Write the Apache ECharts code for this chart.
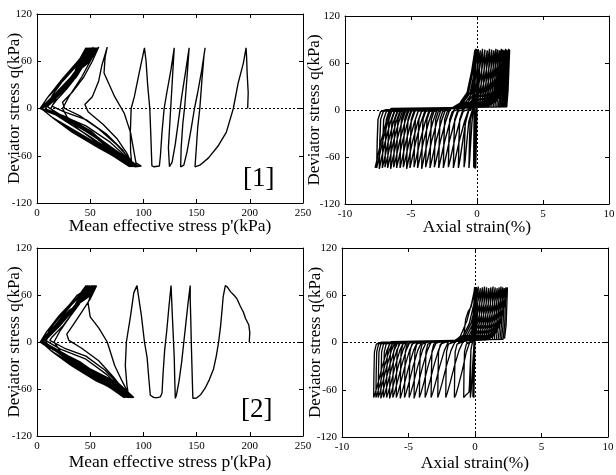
<!DOCTYPE html>
<html>
<head>
<meta charset="utf-8">
<script src="https://cdn.jsdelivr.net/npm/echarts@6/dist/echarts.min.js"></script>
<style>
html,body{margin:0;padding:0;background:#fff;}
#chart{width:616px;height:475px;}
</style>
</head>
<body>
<div id="chart"></div>
<script>
// Axis ranges and titles
const pRange = {min: 0, max: 250, step: 50};
const qRange = {min: -120, max: 120, step: 60};
const strainRange = {min: -10, max: 10, step: 5};
const nameP = "Mean effective stress p'(kPa)";
const nameStrain = "Axial strain(%)";
const nameQ = "Deviator stress q(kPa)";
const panelTags = ['[1]', '[2]'];

// Test [1]: effective stress path, first cycles down to the butterfly stage  [p', q]
const pqHistory1 = [
  [198,0],[198.5,20],[197.5,45],[197,65],[196.5,77],
  [194,58],[189,32],[184.5,0],[178,-30],[170,-48],[161,-63],[153,-72],[148.5,-74],
  [149.5,-55],[151,-25],[153,0],[155,36],[157,68],[158,77],
  [155,50],[151,20],[148,0],[145,-25],[141,-55],[138,-72],[135,-74],
  [135.5,-50],[137,-20],[139,5],[141,40],[142.5,68],[143,77],
  [140,50],[136,15],[133,-15],[130,-45],[127,-68],[124.5,-74],[123,-74],
  [123.5,-50],[125,-15],[126.5,20],[128,55],[129,77],
  [126,50],[122,20],[119.5,0],[117.5,-30],[116,-60],[115,-73],[110,-74],[108,-73],
  [107.5,-55],[107,-35],[106,0],[104,30],[102.5,60],[101,77],
  [96,45],[91.5,15],[88.5,0],[87.7,-31],[88,-55],[89,-70],[92,-74],[98,-73],
  [93,-69],[88,-31],[82,-6],[73,15],[63,45],[64,65],[66,78],
  [61,55],[58,35],[52,15],[45,5],[48,-4],[62,-20],[75,-38],[85,-58],[90,-74],
  [75,-60],[55,-42],[38,-25],[28,-10],[24,0],[30,15],[42,40],[52,65],[58,78],
  [52,60],[44,40],[34,22],[24,8],[26,0],[40,-9],[58,-26],[75,-46],[88,-65],[92,-74],
  [74,-58],[52,-38],[32,-20],[18,-7],[13,0],[20,18],[33,42],[45,64],[53,78],
  [46,60],[38,42],[28,25],[18,10],[14,3],[25,-4],[46,-14],[65,-32],[80,-52],[90,-72],[93,-74],
  [73,-57],[50,-36],[28,-17],[14,-5],[8,0],[15,18],[28,42],[40,63],[51,77],
  [44,60],[36,42],[24,22],[12,7],[10,2],[22,-8],[46,-22],[68,-42],[86,-64],[91,-74]
];
// Test [1]: butterfly loops through the origin
const pqLoops1 = [
  [[73,-55],[48,-29],[25,-11],[8,-2],[3,0],[10,14],[25,38],[40,61],[52,77],[45,60],[34,40],[20,20],[9,5],[4,0],[15,-12],[35,-30],[60,-50],[89,-74]],
  [[72,-55],[49,-29],[26,-11],[9,-2],[3,0],[10,14],[25.5,38],[40.5,61],[48,77],[41,60],[35,40],[21,20],[10,5],[4,0],[15,-12],[36,-30],[61,-50],[93,-74]],
  [[74,-55],[47,-29],[24,-11],[7,-2],[3,0],[10,14],[24.5,38],[39.5,61],[54,77],[47,60],[33,40],[19,20],[8,5],[4,0],[15,-12],[34,-30],[59,-50],[88,-74]],
  [[72,-55],[50,-29],[27,-11],[10,-2],[3,0],[10,14],[26,38],[41,61],[50,77],[43,60],[36,40],[22,20],[11,5],[4,0],[15,-12],[37,-30],[62,-50],[95,-74]],
  [[75,-55],[46,-29],[23,-11],[6,-2],[3,0],[10,14],[24,38],[39,61],[56,77],[49,60],[32,40],[18,20],[7,5],[4,0],[15,-12],[33,-30],[58,-50],[90,-74]],
  [[73,-55],[49,-29],[26,-11],[9,-2],[3,0],[10,14],[25.5,38],[40.5,61],[47,77],[40,60],[35,40],[21,20],[10,5],[4,0],[15,-12],[36,-30],[61,-50],[92,-74]],
  [[74,-55],[48,-29],[25,-11],[8,-2],[3,0],[10,14],[25,38],[40,61],[53,77],[46,60],[34,40],[20,20],[9,5],[4,0],[15,-12],[35,-30],[60,-50],[87,-74]],
  [[72,-55],[51,-29],[28,-11],[11,-2],[3,0],[10,14],[26.5,38],[41.5,61],[49,77],[42,60],[37,40],[23,20],[12,5],[4,0],[15,-12],[38,-30],[63,-50],[94,-74]],
  [[75,-55],[47,-29],[24,-11],[7,-2],[3,0],[10,14],[24.5,38],[39.5,61],[55,77],[48,60],[33,40],[19,20],[8,5],[4,0],[15,-12],[34,-30],[59,-50],[91,-74]],
  [[75,-55],[50,-29],[27,-11],[10,-2],[3,0],[10,14],[26,38],[41,61],[51,77],[44,60],[36,40],[22,20],[11,5],[4,0],[15,-12],[37,-30],[62,-50],[89,-74]],
  [[71,-55],[48,-29],[25,-11],[8,-2],[3,0],[10,14],[25,38],[40,61],[46,77],[39,60],[34,40],[20,20],[9,5],[4,0],[15,-12],[35,-30],[60,-50],[93,-74]],
  [[76,-55],[49,-29],[26,-11],[9,-2],[3,0],[10,14],[25.5,38],[40.5,61],[52,77],[45,60],[35,40],[21,20],[10,5],[4,0],[15,-12],[36,-30],[61,-50],[96,-74]],
  [[76,-55],[46,-29],[23,-11],[6,-2],[3,0],[10,14],[24,38],[39,61],[57,77],[50,60],[32,40],[18,20],[7,5],[4,0],[15,-12],[33,-30],[58,-50],[90,-74]],
  [[72,-55],[48,-29],[25,-11],[8,-2],[3,0],[10,14],[25,38],[40,61],[50,77],[43,60],[34,40],[20,20],[9,5],[4,0]]
];

// Test [1]: axial strain (%) against deviator stress, cycle by cycle  [strain, q]
const strainCycles1 = [
  [[0,0],[0.02,30],[0.05,60],[0.06,77],[0.03,40],[0,5],[-0.04,-30],[-0.08,-60],[-0.1,-74],
   [-0.09,-40],[-0.05,-10],[0,15],[0.05,50],[0.08,77],[0.04,30],[-0.02,0],[-0.08,-30],[-0.12,-60],[-0.14,-75],
   [-0.12,-40],[-0.07,-8],[0,12],[0.07,50],[0.1,78],[0.05,25],[-0.05,0],[-0.12,-30],[-0.17,-60],[-0.2,-74],
   [-0.18,-40],[-0.12,-6],[-0.05,8],[0.05,45],[0.1,77],[0.04,20],[-0.06,2],[-0.16,-25],[-0.22,-55],[-0.25,-73]],
  [[-0.24,-40],[-0.22,-10],[-0.2,10],[-0.16,45],[-0.12,77],[-0.2,25],[-0.28,3],[-0.38,-15],[-0.48,-42],[-0.56,-64],[-0.61,-74]],
  [[-0.57,-40],[-0.51,-12],[-0.35,-1],[-0.25,6],[-0.18,22],[-0.13,50],[-0.1,77],[-0.2,25],[-0.3,3],[-0.45,1],[-0.62,-15],[-0.78,-42],[-0.9,-64],[-0.98,-73]],
  [[-0.94,-40],[-0.88,-12],[-0.68,-2],[-0.4,2],[-0.25,12],[-0.16,42],[-0.08,78],[-0.19,25],[-0.29,3],[-0.6,1],[-0.85,-15],[-1.1,-42],[-1.3,-64],[-1.41,-74]],
  [[-1.37,-40],[-1.31,-12],[-1.11,-2],[-0.71,0.5],[-0.45,6],[-0.3,20],[-0.15,50],[-0.05,77],[-0.17,25],[-0.27,4],[-0.6,2],[-0.95,-15],[-1.35,-40],[-1.65,-63],[-1.79,-74]],
  [[-1.75,-40],[-1.69,-12],[-1.49,-2],[-1.09,0.5],[-0.9,5],[-0.6,12],[-0.37,26],[-0.2,52],[-0.12,76],[-0.24,25],[-0.34,4],[-0.97,2],[-1.32,-15],[-1.72,-40],[-2.02,-63],[-2.17,-73]],
  [[-2.13,-40],[-2.07,-12],[-1.87,-2],[-1.47,0.5],[-1.25,10],[-0.75,22],[-0.4,50],[-0.15,77],[-0.27,25],[-0.37,4],[-1.35,2],[-1.7,-15],[-2.1,-40],[-2.4,-63],[-2.55,-74]],
  [[-2.51,-40],[-2.45,-12],[-2.25,-2],[-1.85,3],[-1.15,10],[-0.65,22],[-0.3,50],[-0.05,78],[-0.17,25],[-0.27,4],[-1.7,2],[-2.05,-15],[-2.45,-40],[-2.75,-63],[-2.9,-74]],
  [[-2.86,-40],[-2.8,-12],[-2.6,-2],[-2.2,0.5],[-1.72,4],[-1.02,10],[-0.52,22],[-0.17,50],[0.08,77],[-0.04,25],[-0.14,4],[-2.03,2],[-2.38,-15],[-2.78,-40],[-3.08,-63],[-3.23,-73]],
  [[-3.19,-40],[-3.13,-12],[-2.93,-2],[-2.53,0.5],[-1.55,4],[-0.85,10],[-0.35,22],[0,50],[0.25,76],[0.13,25],[0.03,4],[-2.36,2],[-2.71,-15],[-3.11,-40],[-3.41,-63],[-3.56,-74]],
  [[-3.52,-40],[-3.46,-12],[-3.26,-2],[-2.86,0.5],[-1.38,4],[-0.68,10],[-0.18,22],[0.17,50],[0.42,78],[0.3,25],[0.2,4],[-2.69,2],[-3.04,-15],[-3.44,-40],[-3.74,-63],[-3.89,-73]],
  [[-3.85,-40],[-3.79,-12],[-3.59,-2],[-3.19,0.5],[-1.2,4],[-0.5,10],[0,22],[0.35,50],[0.6,77],[0.48,25],[0.38,4],[-2.99,2],[-3.34,-15],[-3.74,-40],[-4.04,-63],[-4.19,-75]],
  [[-4.15,-40],[-4.09,-12],[-3.89,-2],[-3.49,0.5],[-1.02,4],[-0.32,10],[0.18,22],[0.53,50],[0.78,76],[0.66,25],[0.56,4],[-3.3,2],[-3.65,-15],[-4.05,-40],[-4.35,-63],[-4.5,-74]],
  [[-4.46,-40],[-4.4,-12],[-4.2,-2],[-3.8,0.5],[-0.85,4],[-0.15,10],[0.35,22],[0.7,50],[0.95,78],[0.83,25],[0.73,4],[-3.57,2],[-3.92,-15],[-4.32,-40],[-4.62,-63],[-4.77,-73]],
  [[-4.73,-40],[-4.67,-12],[-4.47,-2],[-4.07,0.5],[-0.68,4],[0.02,10],[0.52,22],[0.87,50],[1.12,77],[1,25],[0.9,4],[-3.88,2],[-4.23,-15],[-4.63,-40],[-4.93,-63],[-5.08,-74]],
  [[-5.04,-40],[-4.98,-12],[-4.78,-2],[-4.38,0.5],[-0.52,4],[0.18,10],[0.68,22],[1.03,50],[1.28,76],[1.16,25],[1.06,4],[-4.13,2],[-4.48,-15],[-4.88,-40],[-5.18,-63],[-5.33,-75]],
  [[-5.29,-40],[-5.23,-12],[-5.03,-2],[-4.63,0.5],[-0.36,4],[0.34,10],[0.84,22],[1.19,50],[1.44,78],[1.32,25],[1.22,4],[-4.38,2],[-4.73,-15],[-5.13,-40],[-5.43,-63],[-5.58,-73]],
  [[-5.54,-40],[-5.48,-12],[-5.28,-2],[-4.88,0.5],[-0.22,4],[0.48,10],[0.98,22],[1.33,50],[1.58,77],[1.46,25],[1.36,4],[-4.63,2],[-4.98,-15],[-5.38,-40],[-5.68,-63],[-5.83,-74]],
  [[-5.79,-40],[-5.73,-12],[-5.53,-2],[-5.13,0.5],[-0.08,4],[0.62,10],[1.12,22],[1.47,50],[1.72,76],[1.6,25],[1.5,4],[-4.89,2],[-5.24,-15],[-5.64,-40],[-5.94,-63],[-6.09,-74]],
  [[-6.05,-40],[-5.99,-12],[-5.79,-2],[-5.39,0.5],[0.05,4],[0.75,10],[1.25,22],[1.6,50],[1.85,78],[1.73,25],[1.63,4],[-5.11,2],[-5.46,-15],[-5.86,-40],[-6.16,-63],[-6.31,-73]],
  [[-6.27,-40],[-6.21,-12],[-6.01,-2],[-5.61,0.5],[0.16,4],[0.86,10],[1.36,22],[1.71,50],[1.96,77],[1.84,25],[1.74,4],[-5.34,2],[-5.69,-15],[-6.09,-40],[-6.39,-63],[-6.54,-75]],
  [[-6.5,-40],[-6.44,-12],[-6.24,-2],[-5.84,0.5],[0.27,4],[0.97,10],[1.47,22],[1.82,50],[2.07,76],[1.95,25],[1.85,4],[-5.57,2],[-5.92,-15],[-6.32,-40],[-6.62,-63],[-6.77,-74]],
  [[-6.73,-40],[-6.67,-12],[-6.47,-2],[-6.07,0.5],[0.37,4],[1.07,10],[1.57,22],[1.92,50],[2.17,78],[2.05,25],[1.95,4],[-5.77,2],[-6.12,-15],[-6.52,-40],[-6.82,-63],[-6.97,-73]],
  [[-6.93,-40],[-6.87,-12],[-6.67,-2],[-6.27,0.5],[0.46,4],[1.16,10],[1.66,22],[2.01,50],[2.26,77],[2.14,25],[2.04,4],[-5.97,2],[-6.32,-15],[-6.72,-40],[-7.02,-63],[-7.17,-74]],
  [[-7.13,-40],[-7.07,-12],[-6.87,-2],[-6.47,0.5],[0.54,4],[1.24,10],[1.74,22],[2.09,50],[2.34,76],[2.22,25],[2.12,4],[-6.2,2],[-6.55,-15],[-6.95,-40],[-7.25,-63],[-7.4,-75]],
  [[-7.36,-40],[-7.3,-12],[-7.1,-2],[-6.7,0.5],[0.61,4],[1.31,10],[1.81,22],[2.16,50],[2.41,78],[2.29,25],[2.19,4],[-6.4,2],[-6.75,-15],[-7.15,-40],[-7.45,-63],[-7.6,-74]],
  [[-7.56,-40],[-7.5,-12],[-7.3,-2],[-6.9,0.5],[0.67,4],[1.37,10],[1.87,22],[2.22,50],[2.47,77],[2.35,25],[2.25,4],[-6.52,2],[-6.87,-15],[-7.27,-40],[-7.57,-63],[-7.72,-74]]
];

// Test [2]: effective stress path, first cycles  [p', q]
const pqHistory2 = [
  [199.5,0],[200,12],[199,22],[196,30],[194,38],[191,46],[188,55],[185,60],[182,64],[179,70],[177,72],
  [175,58],[174,42],[172.5,20],[170.7,0],[168.5,-18],[166,-34],[162,-48],[158,-59],[154,-67],[150,-71.5],[146.5,-72],
  [146,-50],[145.5,-25],[145,0],[144.5,30],[144,55],[144,72],
  [142,50],[140,25],[138,0],[136,-25],[133.5,-50],[131,-68],[130,-72],
  [129.5,-50],[129,-20],[128,10],[127,40],[126,72],
  [124,45],[122,15],[120,-10],[118.5,-40],[117.5,-65],[116,-70],[113,-71],[110,-71],
  [106.5,-68],[105,-45],[103.5,-20],[101,0],[98,35],[95,62],[94,72],
  [91,63],[88,34],[84,0],[83,-30],[84.5,-55],[86,-68],[88,-71],
  [80,-50],[73,-30],[66,0],[58,18],[50,32],[48,50],[52,65],[56,72],
  [50,55],[42,38],[34,22],[28,10],[30,2],[42,-8],[58,-24],[72,-45],[82,-62],[86,-71],
  [70,-58],[52,-42],[34,-26],[22,-12],[16,0],[22,15],[34,38],[44,58],[50,72],
  [44,56],[34,38],[24,20],[14,6],[12,2],[26,-8],[46,-18],[64,-36],[78,-56],[84,-70],
  [66,-55],[46,-38],[28,-22],[14,-8],[8,0],[14,16],[28,40],[40,60],[48,72],
  [40,55],[30,37],[20,20],[10,6],[8,2],[22,-9],[46,-22],[66,-42],[80,-62],[86,-71],
  [68,-56],[47,-38],[26,-20],[12,-6],[6,0],[12,16],[26,40],[38,60],[52,72],
  [44,57],[33,39],[21,20],[10,5],[6,1],[18,-10],[40,-25],[62,-46],[78,-63],[84,-71]
];
// Test [2]: butterfly loops through the origin
const pqLoops2 = [
  [[68,-52],[46,-33],[24,-15],[8,-3],[3,0],[9,13],[22,34],[36,54],[50,72],[44,58],[32,40],[19,21],[8,5],[4,0],[14,-12],[34,-30],[58,-50],[88,-71]],
  [[73,-52],[47,-33],[25,-15],[9,-3],[3,0],[9,13],[22.5,34],[36.5,54],[46,72],[40,58],[33,40],[20,21],[9,5],[4,0],[14,-12],[35,-30],[59,-50],[83,-71]],
  [[66,-52],[45,-33],[23,-15],[7,-3],[3,0],[9,13],[21.5,34],[35.5,54],[53,72],[47,58],[31,40],[18,21],[7,5],[4,0],[14,-12],[33,-30],[57,-50],[90,-71]],
  [[76,-52],[48,-33],[26,-15],[10,-3],[3,0],[9,13],[23,34],[37,54],[48,72],[42,58],[34,40],[21,21],[10,5],[4,0],[14,-12],[36,-30],[60,-50],[85,-71]],
  [[67,-52],[44,-33],[22,-15],[6,-3],[3,0],[9,13],[21,34],[35,54],[55,72],[49,58],[30,40],[17,21],[6,5],[4,0],[14,-12],[32,-30],[56,-50],[91,-71]],
  [[76,-52],[47,-33],[25,-15],[9,-3],[3,0],[9,13],[22.5,34],[36.5,54],[47,72],[41,58],[33,40],[20,21],[9,5],[4,0],[14,-12],[35,-30],[59,-50],[86,-71]],
  [[70,-52],[46,-33],[24,-15],[8,-3],[3,0],[9,13],[22,34],[36,54],[52,72],[46,58],[32,40],[19,21],[8,5],[4,0],[14,-12],[34,-30],[58,-50],[89,-71]],
  [[75,-52],[48,-33],[26,-15],[10,-3],[3,0],[9,13],[23,34],[37,54],[49,72],[43,58],[34,40],[21,21],[10,5],[4,0],[14,-12],[36,-30],[60,-50],[82,-71]],
  [[65,-52],[45,-33],[23,-15],[7,-3],[3,0],[9,13],[21.5,34],[35.5,54],[54,72],[48,58],[31,40],[18,21],[7,5],[4,0],[14,-12],[33,-30],[57,-50],[87,-71]],
  [[71,-52],[46,-33],[24,-15],[8,-3],[3,0],[9,13],[22,34],[36,54],[50,72],[44,58],[32,40],[19,21],[8,5],[4,0]]
];

// Test [2]: axial strain (%) against deviator stress, cycle by cycle  [strain, q]
const strainCycles2 = [
  [[0,0],[0.03,35],[0.06,70],[0.02,30],[-0.02,-10],[-0.06,-45],[-0.08,-70],
   [-0.06,-30],[-0.02,0],[0.03,30],[0.08,70],[0.04,25],[-0.02,-5],[-0.08,-40],[-0.12,-70],
   [-0.1,-30],[-0.05,0],[0.02,30],[0.1,70],[0.05,20],[-0.05,-5],[-0.12,-40],[-0.16,-69],
   [-0.14,-30],[-0.08,-2],[0,25],[0.08,55],[0.12,70],[0.06,20],[-0.06,2],[-0.18,-30],[-0.28,-60],[-0.35,-70]],
  [[-0.34,-40],[-0.31,-10],[-0.2,0],[-0.1,8],[-0.02,30],[0.02,52],[0.05,70],[-0.05,22],[-0.15,3],[-0.3,-8],[-0.36,-30],[-0.42,-55],[-0.45,-63],[-0.58,-62],[-0.7,-67],[-0.85,-70]],
  [[-0.83,-40],[-0.79,-12],[-0.65,-2],[-0.35,1],[-0.25,12],[-0.12,40],[0,70],[-0.1,22],[-0.2,3],[-0.4,0],[-0.65,-12],[-0.95,-35],[-1.25,-55],[-1.45,-67],[-1.55,-70]],
  [[-1.53,-40],[-1.49,-12],[-1.35,-2],[-1,0.5],[-0.85,8],[-0.7,30],[-0.5,40],[-0.3,45],[-0.12,58],[-0.03,70],[-0.12,22],[-0.22,3],[-0.9,1],[-1.2,-10],[-1.55,-30],[-1.85,-50],[-2.08,-64],[-2.2,-70]],
  [[-2.18,-40],[-2.14,-12],[-2,-2],[-1.6,0.5],[-1.1,8],[-0.6,28],[-0.25,50],[0,70],[-0.1,22],[-0.2,3],[-1.5,1],[-1.8,-10],[-2.15,-30],[-2.45,-50],[-2.68,-64],[-2.8,-70]],
  [[-2.78,-40],[-2.74,-12],[-2.6,-2],[-2.2,0.5],[-1.48,3],[-0.88,9],[-0.43,24],[-0.1,48],[0.12,70],[0.02,22],[-0.1,4],[-2,1],[-2.3,-10],[-2.65,-30],[-2.95,-50],[-3.18,-64],[-3.3,-70]],
  [[-3.28,-40],[-3.24,-12],[-3.1,-2],[-2.7,0.5],[-1.35,3],[-0.75,9],[-0.3,24],[0.03,48],[0.25,71],[0.15,22],[0.03,4],[-2.45,1],[-2.75,-10],[-3.1,-30],[-3.4,-50],[-3.63,-64],[-3.75,-70]],
  [[-3.73,-40],[-3.69,-12],[-3.55,-2],[-3.15,0.5],[-1.2,3],[-0.6,9],[-0.15,24],[0.18,48],[0.4,69],[0.3,22],[0.18,4],[-2.88,1],[-3.18,-10],[-3.53,-30],[-3.83,-50],[-4.06,-64],[-4.18,-70]],
  [[-4.16,-40],[-4.12,-12],[-3.98,-2],[-3.58,0.5],[-1.04,3],[-0.44,9],[0.01,24],[0.34,48],[0.56,70],[0.46,22],[0.34,4],[-3.28,1],[-3.58,-10],[-3.93,-30],[-4.23,-50],[-4.46,-64],[-4.58,-71]],
  [[-4.56,-40],[-4.52,-12],[-4.38,-2],[-3.98,0.5],[-0.88,3],[-0.28,9],[0.17,24],[0.5,48],[0.72,71],[0.62,22],[0.5,4],[-3.65,1],[-3.95,-10],[-4.3,-30],[-4.6,-50],[-4.83,-64],[-4.95,-70]],
  [[-4.93,-40],[-4.89,-12],[-4.75,-2],[-4.35,0.5],[-0.72,3],[-0.12,9],[0.33,24],[0.66,48],[0.88,70],[0.78,22],[0.66,4],[-4,1],[-4.3,-10],[-4.65,-30],[-4.95,-50],[-5.18,-64],[-5.3,-70]],
  [[-5.28,-40],[-5.24,-12],[-5.1,-2],[-4.7,0.5],[-0.56,3],[0.04,9],[0.49,24],[0.82,48],[1.04,69],[0.94,22],[0.82,4],[-4.32,1],[-4.62,-10],[-4.97,-30],[-5.27,-50],[-5.5,-64],[-5.62,-71]],
  [[-5.6,-40],[-5.56,-12],[-5.42,-2],[-5.02,0.5],[-0.4,3],[0.2,9],[0.65,24],[0.98,48],[1.2,70],[1.1,22],[0.98,4],[-4.62,1],[-4.92,-10],[-5.27,-30],[-5.57,-50],[-5.8,-64],[-5.92,-70]],
  [[-5.9,-40],[-5.86,-12],[-5.72,-2],[-5.32,0.5],[-0.24,3],[0.36,9],[0.81,24],[1.14,48],[1.36,71],[1.26,22],[1.14,4],[-4.88,1],[-5.18,-10],[-5.53,-30],[-5.83,-50],[-6.06,-64],[-6.18,-70]],
  [[-6.16,-40],[-6.12,-12],[-5.98,-2],[-5.58,0.5],[-0.08,3],[0.52,9],[0.97,24],[1.3,48],[1.52,70],[1.42,22],[1.3,4],[-5.12,1],[-5.42,-10],[-5.77,-30],[-6.07,-50],[-6.3,-64],[-6.42,-71]],
  [[-6.4,-40],[-6.36,-12],[-6.22,-2],[-5.82,0.5],[0.07,3],[0.67,9],[1.12,24],[1.45,48],[1.67,69],[1.57,22],[1.45,4],[-5.35,1],[-5.65,-10],[-6,-30],[-6.3,-50],[-6.53,-64],[-6.65,-70]],
  [[-6.63,-40],[-6.59,-12],[-6.45,-2],[-6.05,0.5],[0.22,3],[0.82,9],[1.27,24],[1.6,48],[1.82,70],[1.72,22],[1.6,4],[-5.58,1],[-5.88,-10],[-6.23,-30],[-6.53,-50],[-6.76,-64],[-6.88,-70]],
  [[-6.86,-40],[-6.82,-12],[-6.68,-2],[-6.28,0.5],[0.36,3],[0.96,9],[1.41,24],[1.74,48],[1.96,71],[1.86,22],[1.74,4],[-5.78,1],[-6.08,-10],[-6.43,-30],[-6.73,-50],[-6.96,-64],[-7.08,-71]],
  [[-7.06,-40],[-7.02,-12],[-6.88,-2],[-6.48,0.5],[0.49,3],[1.09,9],[1.54,24],[1.87,48],[2.09,70],[1.99,22],[1.87,4],[-5.98,1],[-6.28,-10],[-6.63,-30],[-6.93,-50],[-7.16,-64],[-7.28,-70]],
  [[-7.26,-40],[-7.22,-12],[-7.08,-2],[-6.68,0.5],[0.61,3],[1.21,9],[1.66,24],[1.99,48],[2.21,69],[2.11,22],[1.99,4],[-6.15,1],[-6.45,-10],[-6.8,-30],[-7.1,-50],[-7.33,-64],[-7.45,-70]],
  [[-7.43,-40],[-7.39,-12],[-7.25,-2],[-6.85,0.5],[0.73,3],[1.33,9],[1.78,24],[2.11,48],[2.33,70],[2.23,22],[2.11,4],[-6.32,1],[-6.62,-10],[-6.97,-30],[-7.27,-50],[-7.5,-64],[-7.62,-70]],
  [[-7.6,-40],[-7.56,-12],[-7.42,-2],[-7.02,0.5],[0.84,3],[1.44,9],[1.89,24],[2.22,48],[2.44,70],[2.34,22],[2.22,5]]
];

const FONT = '"Liberation Serif", "Times New Roman", serif';
const INK = '#000';

// Plot frames (pixel boxes of the four panels)
const frames = [
  {left: 37, top: 14, width: 266, height: 189},
  {left: 345, top: 16, width: 264, height: 188},
  {left: 37, top: 248, width: 266, height: 188},
  {left: 342, top: 248, width: 266, height: 189}
];

function baseAxis(range) {
  return {
    type: 'value', min: range.min, max: range.max, interval: range.step,
    axisLine: {show: true, onZero: false, lineStyle: {color: INK, width: 1}},
    axisTick: {show: true, inside: true, length: 4, lineStyle: {color: INK, width: 1}},
    splitLine: {show: false},
    axisLabel: {show: true, color: INK, fontFamily: FONT, fontSize: 11, margin: 5}
  };
}
function xAxes(gi, range, name, gap) {
  const bottom = Object.assign(baseAxis(range), {
    gridIndex: gi, position: 'bottom', name: name, nameLocation: 'middle', nameGap: gap,
    nameMoveOverlap: false,
    nameTextStyle: {color: INK, fontFamily: FONT, fontSize: 17.5}
  });
  const top = Object.assign(baseAxis(range), {gridIndex: gi, position: 'top'});
  top.axisLabel = {show: false};
  return [bottom, top];
}
function yAxes(gi, range, name, gap) {
  const left = Object.assign(baseAxis(range), {
    gridIndex: gi, position: 'left', name: name, nameLocation: 'middle', nameGap: gap,
    nameMoveOverlap: false,
    nameTextStyle: {color: INK, fontFamily: FONT, fontSize: 17}
  });
  const right = Object.assign(baseAxis(range), {gridIndex: gi, position: 'right'});
  right.axisLabel = {show: false};
  return [left, right];
}

function zeroLines(withVertical) {
  const data = [{yAxis: 0}];
  if (withVertical) data.push({xAxis: 0});
  return {
    silent: true, symbol: ['none', 'none'], label: {show: false},
    lineStyle: {color: INK, width: 1, type: [2, 2]},
    emphasis: {disabled: true},
    data: data
  };
}
function trace(gi, data, width, withVertical) {
  return {
    type: 'line', xAxisIndex: gi * 2, yAxisIndex: gi * 2,
    data: data, symbol: 'none', showSymbol: false, smooth: false,
    lineStyle: {color: INK, width: width},
    emphasis: {disabled: true},
    markLine: zeroLines(withVertical),
    z: 3
  };
}

const chart = echarts.init(document.getElementById('chart'), null, {renderer: 'canvas'});
chart.setOption({
  animation: false,
  backgroundColor: '#fff',
  grid: frames.map(f => Object.assign({containLabel: false, outerBoundsMode: 'none'}, f)),
  xAxis: [].concat(
    xAxes(0, pRange, nameP, 14),
    xAxes(1, strainRange, nameStrain, 14),
    xAxes(2, pRange, nameP, 17),
    xAxes(3, strainRange, nameStrain, 17)
  ),
  yAxis: [].concat(
    yAxes(0, qRange, nameQ, 14),
    yAxes(1, qRange, nameQ, 22),
    yAxes(2, qRange, nameQ, 14),
    yAxes(3, qRange, nameQ, 18)
  ),
  series: [
    trace(0, pqHistory1.concat(...pqLoops1), 1.35, false),
    trace(1, [].concat(...strainCycles1), 1.4, true),
    trace(2, pqHistory2.concat(...pqLoops2), 1.35, false),
    trace(3, [].concat(...strainCycles2), 1.3, true)
  ],
  graphic: [
    {type: 'text', left: 243, top: 165, style: {text: panelTags[0], fill: INK, font: '27px ' + FONT}},
    {type: 'text', left: 241, top: 396, style: {text: panelTags[1], fill: INK, font: '27px ' + FONT}}
  ]
});
</script>
</body>
</html>
